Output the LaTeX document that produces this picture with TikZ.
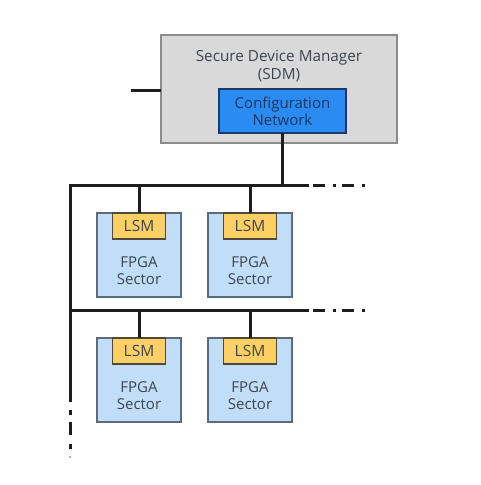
\documentclass[tikz,border=0pt]{standalone}
\usepackage{fontspec}
\setmainfont{Open Sans}
\definecolor{sdmfill}{HTML}{D9D9D9}
\definecolor{sdmline}{HTML}{8C8C8C}
\definecolor{cfgfill}{HTML}{2A8CF2}
\definecolor{cfgline}{HTML}{1C3A66}
\definecolor{cfgtext}{HTML}{1C3560}
\definecolor{secfill}{HTML}{C0DEF7}
\definecolor{secline}{HTML}{5C6B7E}
\definecolor{lsmfill}{HTML}{FCD065}
\definecolor{lsmline}{HTML}{4F4A3A}
\definecolor{txt}{HTML}{3E4550}
\definecolor{bus}{HTML}{1E1E1E}
\begin{document}
\begin{tikzpicture}[x=1pt,y=-1pt,
  box/.style={draw,line width=1.1pt,inner sep=0pt,outer sep=0pt,anchor=north west},
  sdmbox/.style={box,fill=sdmfill,draw=sdmline,minimum width=236pt,minimum height=108pt},
  cfgbox/.style={box,fill=cfgfill,draw=cfgline,minimum width=127pt,minimum height=44pt,text=cfgtext,align=center,font=\fontsize{15}{17}\selectfont},
  secbox/.style={box,fill=secfill,draw=secline,minimum width=84pt,minimum height=84pt},
  lsmbox/.style={box,fill=lsmfill,draw=lsmline,minimum width=53pt,minimum height=26pt,anchor=north,text=txt,font=\fontsize{15.5}{16}\selectfont},
  lbl/.style={text=txt,align=center,font=\fontsize{15}{17}\selectfont,inner sep=0pt},
  sdmlbl/.style={lbl,font=\fontsize{15.3}{18}\selectfont},
  busline/.style={draw=bus,line width=3pt},
  dashline/.style={draw=bus,line width=3pt,dash pattern=on 12pt off 8pt on 3pt off 6pt}]
\useasboundingbox (0,0) rectangle (480,485);
% SDM
\node[sdmbox] (sdm) at (161,35) {};
\node[sdmlbl] (sdmtxt) at (279,66) {Secure Device Manager\\(SDM)};
\node[cfgbox] (cfg) at (219,89) {Configuration\\Network};
\coordinate (stub) at (131,90);
\draw[busline] (stub) -- (sdm.west |- stub);
% buses
\coordinate (b1l) at (70,185);
\coordinate (b1r) at (309,185);
\coordinate (b1d) at (313,185);
\coordinate (b1e) at (370,185);
\coordinate (b2l) at (70,310);
\coordinate (b2r) at (309,310);
\coordinate (b2d) at (313,310);
\coordinate (b2e) at (370,310);
\coordinate (vend) at (70,402);
\draw[busline] (cfg.south) -- (cfg.south |- b1l);
\draw[busline] (b1l) -- (b1r);
\draw[dashline] (b1d) -- (b1e);
\draw[busline] (b2l) -- (b2r);
\draw[dashline] (b2d) -- (b2e);
\draw[busline] ([yshift=1.5pt]b1l) -- (vend);
\coordinate (v1) at (70,410);
\coordinate (v2) at (70,415);
\coordinate (v3) at (70,422);
\coordinate (v4) at (70,435);
\coordinate (v5) at (70,444);
\coordinate (v6) at (70,449);
\coordinate (v7) at (70,456);
\coordinate (v8) at (70,458);
\draw[busline] (v1) -- (v2);
\draw[busline] (v3) -- (v4);
\draw[busline] (v5) -- (v6);
\draw[draw=bus!35,line width=2pt] (v7) -- (v8);
% sectors
\foreach \n/\x/\y in {a/97/213, b/208/213, c/97/338, d/208/338}{
  \node[secbox] (sec\n) at (\x,\y) {};
  \node[lsmbox] (lsm\n) at (sec\n.north) {LSM};
  \node[lbl] (txt\n) at ([yshift=26.5pt]sec\n.south) {FPGA\\Sector};
}
\draw[busline] (lsma.north) -- (lsma.north |- b1l);
\draw[busline] (lsmb.north) -- (lsmb.north |- b1l);
\draw[busline] (lsmc.north) -- (lsmc.north |- b2l);
\draw[busline] (lsmd.north) -- (lsmd.north |- b2l);
\end{tikzpicture}
\end{document}
